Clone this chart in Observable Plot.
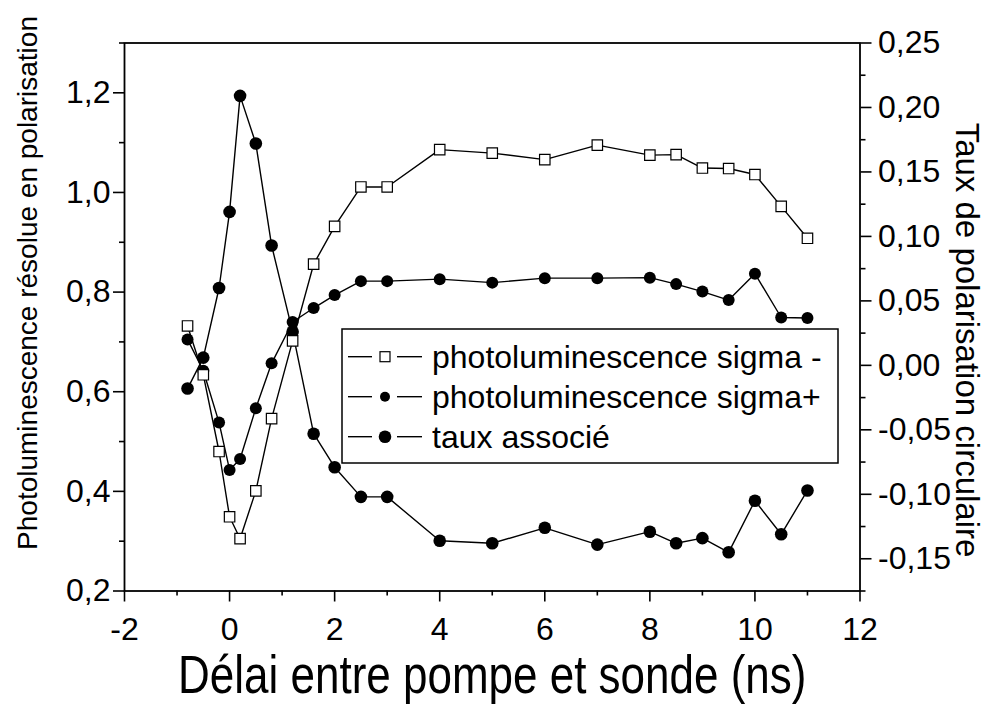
<!DOCTYPE html>
<html>
<head>
<meta charset="utf-8">
<script src="https://cdn.jsdelivr.net/npm/d3@7"></script>
<script src="https://cdn.jsdelivr.net/npm/@observablehq/plot@0.6"></script>
<style>
  html, body { margin: 0; padding: 0; background: #fff; }
  #chart svg { display: block; }
</style>
</head>
<body>
<div id="chart"></div>
<script>
// ---- data ----
const delays = [-0.8, -0.5, -0.2, 0, 0.2, 0.5, 0.8, 1.2, 1.6, 2, 2.5, 3, 4, 5, 6, 7, 8, 8.5, 9, 9.5, 10, 10.5, 11];
const sigmaMinus = [0.732, 0.634, 0.480, 0.349, 0.305, 0.401, 0.546, 0.702, 0.856, 0.932, 1.011, 1.011, 1.086, 1.079, 1.066, 1.095, 1.075, 1.076, 1.049, 1.048, 1.036, 0.972, 0.908];
const sigmaPlus = [0.705, 0.642, 0.538, 0.443, 0.465, 0.567, 0.657, 0.740, 0.768, 0.794, 0.822, 0.822, 0.826, 0.819, 0.828, 0.828, 0.829, 0.816, 0.801, 0.784, 0.837, 0.749, 0.748];
const taux = [-0.018, 0.006, 0.060, 0.119, 0.209, 0.172, 0.093, 0.026, -0.053, -0.079, -0.102, -0.102, -0.136, -0.138, -0.126, -0.139, -0.129, -0.138, -0.134, -0.145, -0.105, -0.131, -0.097];

const seriesNames = ["photoluminescence sigma -", "photoluminescence sigma+", "taux associé"];
const xTitle = "Délai entre pompe et sonde (ns)";
const yLeftTitle = "Photoluminescence résolue en polarisation";
const yRightTitle = "Taux de polarisation circulaire";

const xDomain = [-2, 12];
const xMajor = [-2, 0, 2, 4, 6, 8, 10, 12];
const xMinor = [-1, 1, 3, 5, 7, 9, 11];
const yLeftDomain = [0.2, 1.3];
const yLeftMajor = [0.2, 0.4, 0.6, 0.8, 1.0, 1.2];
const yLeftMinor = [0.3, 0.5, 0.7, 0.9, 1.1, 1.3];
const yRightDomain = [-0.175, 0.25];
const yRightMajor = [-0.15, -0.10, -0.05, 0, 0.05, 0.10, 0.15, 0.20, 0.25];
const yRightMinor = [-0.175, -0.125, -0.075, -0.025, 0.025, 0.075, 0.125, 0.175, 0.225];

// map right-axis values onto the left-axis (shared y scale)
const toLeft = d3.scaleLinear().domain(yRightDomain).range(yLeftDomain);

const fmt = (digits) => (v) => d3.format(`.${digits}f`)(v).replace(".", ",").replace("\u2212", "-");

const rows = delays.map((d, i) => ({x: d, minus: sigmaMinus[i], plus: sigmaPlus[i], taux: toLeft(taux[i])}));

const W = 996, H = 709;
const M = {left: 124, right: 136.5, top: 42.5, bottom: 118.5};
const FONT = "'Liberation Sans', Arial, sans-serif";
const tickFont = 32;

const chart = Plot.plot({
  width: W,
  height: H,
  marginLeft: M.left,
  marginRight: M.right,
  marginTop: M.top,
  marginBottom: M.bottom,
  style: {fontFamily: FONT, fontSize: tickFont + "px", color: "#000", background: "#fff", overflow: "visible"},
  x: {domain: xDomain},
  y: {domain: yLeftDomain},
  marks: [
    // lines
    Plot.line(rows, {x: "x", y: "taux", stroke: "#000", strokeWidth: 1.4}),
    Plot.line(rows, {x: "x", y: "plus", stroke: "#000", strokeWidth: 1.4}),
    Plot.line(rows, {x: "x", y: "minus", stroke: "#000", strokeWidth: 1.4}),
    // markers
    Plot.dot(rows, {x: "x", y: "taux", r: 6.3, fill: "#000", stroke: "none"}),
    Plot.dot(rows, {x: "x", y: "plus", r: 6, fill: "#000", stroke: "none"}),
    Plot.dot(rows, {x: "x", y: "minus", symbol: "square", r: 5.9, fill: "#fff", stroke: "#000", strokeWidth: 1.2}),
    // axes: bottom
    Plot.axisX({ticks: xMinor, tickSize: 5, tickFormat: () => "", strokeWidth: 1.6, anchor: "bottom", label: null}),
    Plot.axisX({ticks: xMajor, tickSize: 11, tickPadding: 15, tickFormat: (d) => String(d), strokeWidth: 1.6, anchor: "bottom", label: null, fontSize: tickFont}),
    // axes: left
    Plot.axisY({ticks: yLeftMinor, tickSize: 5, tickFormat: () => "", strokeWidth: 1.6, anchor: "left", label: null}),
    Plot.axisY({ticks: yLeftMajor, tickSize: 11, tickPadding: 3, tickFormat: fmt(1), strokeWidth: 1.6, anchor: "left", label: null, fontSize: tickFont}),
    // axes: right (values mapped through toLeft)
    Plot.axisY({ticks: yRightMinor.map(toLeft), tickSize: 5, tickFormat: () => "", strokeWidth: 1.6, anchor: "right", label: null}),
    Plot.axisY({ticks: yRightMajor.map(toLeft), tickSize: 11, tickPadding: 7, tickFormat: (v) => fmt(2)(toLeft.invert(v)), strokeWidth: 1.6, anchor: "right", label: null, fontSize: tickFont}),
    Plot.frame({stroke: "#000", strokeWidth: 1.8}),
    // titles
    Plot.text([yLeftTitle], {frameAnchor: "left", textAnchor: "middle", dx: -96, dy: -34, rotate: -90, fontSize: 28, fill: "#000"}),
    Plot.text([yRightTitle], {frameAnchor: "right", textAnchor: "middle", dx: 107, dy: 23, rotate: 90, fontSize: 33, fill: "#000"}),
    Plot.text([xTitle], {frameAnchor: "bottom", textAnchor: "middle", dy: 99, fontSize: 44, fill: "#000"})
  ]
});

document.getElementById("chart").appendChild(chart);

const svg = d3.select(chart);
// the x title in the reference is drawn taller than wide: stretch it vertically about its own centre
svg.selectAll("text").filter(function() { return this.textContent === xTitle; })
  .each(function() {
    const b = this.getBBox();
    const cy = b.y + b.height / 2;
    const t = d3.select(this).attr("transform") || "";
    d3.select(this).attr("transform", `${t} translate(0,${cy}) scale(1,1.2) translate(0,${-cy})`);
  });

// ---- legend (drawn inside the plot area) ----
const lg = {x: 342, y: 329, w: 496, h: 134, row0: 27.7, rowStep: 40};
const g = svg.append("g").attr("font-family", FONT).attr("text-anchor", "start");
g.append("rect").attr("x", lg.x).attr("y", lg.y).attr("width", lg.w).attr("height", lg.h)
  .attr("fill", "#fff").attr("stroke", "#000").attr("stroke-width", 1.5);
const legendSymbols = ["square", "smalldot", "dot"];
seriesNames.forEach((name, i) => {
  const cy = lg.y + lg.row0 + i * lg.rowStep;
  g.append("line").attr("x1", lg.x + 6).attr("x2", lg.x + 30).attr("y1", cy).attr("y2", cy).attr("stroke", "#000").attr("stroke-width", 1.4);
  g.append("line").attr("x1", lg.x + 55).attr("x2", lg.x + 80).attr("y1", cy).attr("y2", cy).attr("stroke", "#000").attr("stroke-width", 1.4);
  const mx = lg.x + 43;
  if (legendSymbols[i] === "square") {
    g.append("rect").attr("x", mx - 5).attr("y", cy - 5).attr("width", 10).attr("height", 10).attr("fill", "#fff").attr("stroke", "#000").attr("stroke-width", 1.2);
  } else {
    g.append("circle").attr("cx", mx).attr("cy", cy).attr("r", legendSymbols[i] === "dot" ? 6.3 : 5).attr("fill", "#000");
  }
  g.append("text").attr("x", lg.x + 90).attr("y", cy).attr("dy", "0.36em").attr("font-size", 32).attr("fill", "#000").attr("text-anchor", "start").text(name);
});
</script>
</body>
</html>
